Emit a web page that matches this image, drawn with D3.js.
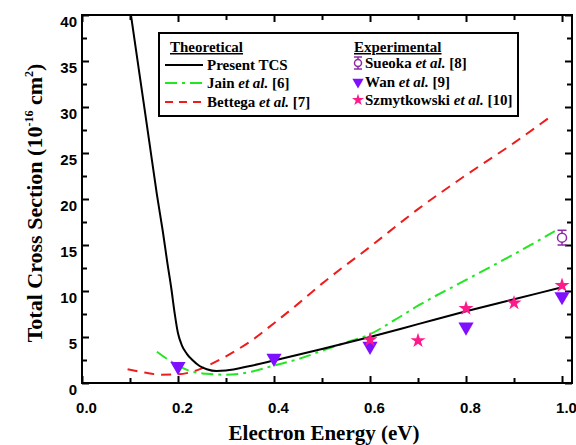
<!DOCTYPE html>
<html><head><meta charset="utf-8">
<script src="https://cdn.jsdelivr.net/npm/d3@7"></script>
<style>
html,body{margin:0;padding:0;background:#fff;}
svg{display:block;}
</style></head>
<body>
<svg id="chart" width="576" height="445"></svg>
<script>
// ---- data ----
const presentE = [0.102,0.12,0.14,0.156,0.168,0.178,0.186,0.193,0.2,0.208,0.218,0.23,0.245,0.26,0.28,0.3,0.35,0.4,0.5,0.6,0.7,0.8,0.9,1.0];
const presentV = [40,33.5,26.3,20.5,16.6,13,10.3,7.6,5.4,4.1,3.2,2.5,1.85,1.5,1.3,1.35,1.85,2.45,3.7,5.0,6.4,7.8,9.1,10.4];
const jainE = [0.156,0.19,0.225,0.26,0.3,0.35,0.4,0.45,0.5,0.55,0.6,0.65,0.7,0.8,0.9,0.985];
const jainV = [3.4,2.2,1.3,1.0,0.9,1.2,1.9,2.6,3.5,4.4,5.3,6.8,8.4,11.2,14.0,16.5];
const bettegaE = [0.095,0.13,0.165,0.2,0.235,0.267,0.3,0.323,0.35,0.4,0.45,0.5,0.6,0.7,0.8,0.9,0.98];
const bettegaV = [1.5,1.15,0.9,0.95,1.3,2.0,2.9,3.6,4.5,6.5,8.6,10.8,14.8,18.9,22.6,26.1,29.1];
const sueokaE = [1.0];
const sueokaV = [15.8];
const sueokaErr = [0.8];
const wanE = [0.2,0.4,0.6,0.8,1.0];
const wanV = [1.8,2.7,4.0,6.1,9.4];
const szmE = [0.6,0.7,0.8,0.9,1.0];
const szmV = [4.7,4.6,8.1,8.7,10.6];
const xTicks = [0,0.2,0.4,0.6,0.8,1.0];
const xMinor = [0.1,0.3,0.5,0.7,0.9];
const yTicks = [0,5,10,15,20,25,30,35,40];
const yMinor = [2.5,7.5,12.5,17.5,22.5,27.5,32.5,37.5];

// ---- layout ----
const L = 82, R = 572, T = 15, B = 383;
const x = d3.scaleLinear().domain([0, 1.0208]).range([L, R]);
const y = d3.scaleLinear().domain([0, 40]).range([B, T]);
const svg = d3.select("#chart");
const SANS = "'Liberation Sans', Arial, sans-serif";
const SERIF = "'Liberation Serif', 'Times New Roman', serif";

svg.append("defs").append("clipPath").attr("id","clip")
  .append("rect").attr("x",L).attr("y",T).attr("width",R-L).attr("height",B-T);

// axes (ticks inward)
function styleAxis(g){ g.select(".domain").remove(); g.selectAll("line").attr("stroke","#000").attr("stroke-width",2); }
svg.append("g").attr("transform",`translate(0,${B})`)
  .call(d3.axisBottom(x).tickValues(xTicks).tickSizeInner(-7).tickSizeOuter(0).tickPadding(19).tickFormat(d3.format(".1f")))
  .call(styleAxis)
  .call(g=>g.selectAll("text").attr("font-family",SANS).attr("font-weight","bold").attr("font-size",15).attr("fill","#000").attr("dx",4));
svg.append("g").attr("transform",`translate(0,${B})`)
  .call(d3.axisBottom(x).tickValues(xMinor).tickSizeInner(-5).tickSizeOuter(0).tickFormat(""))
  .call(styleAxis);
svg.append("g").attr("transform",`translate(0,${T})`)
  .call(d3.axisTop(x).tickValues(xTicks).tickSizeInner(-7).tickSizeOuter(0).tickFormat(""))
  .call(styleAxis);
svg.append("g").attr("transform",`translate(0,${T})`)
  .call(d3.axisTop(x).tickValues(xMinor).tickSizeInner(-5).tickSizeOuter(0).tickFormat(""))
  .call(styleAxis);
svg.append("g").attr("transform",`translate(${L},0)`)
  .call(d3.axisLeft(y).tickValues(yTicks).tickSizeInner(-7).tickSizeOuter(0).tickPadding(5).tickFormat(d3.format("d")))
  .call(styleAxis)
  .call(g=>g.selectAll("text").attr("font-family",SANS).attr("font-weight","bold").attr("font-size",15).attr("fill","#000").attr("transform","translate(0,7)"));
svg.append("g").attr("transform",`translate(${L},0)`)
  .call(d3.axisLeft(y).tickValues(yMinor).tickSizeInner(-5).tickSizeOuter(0).tickFormat(""))
  .call(styleAxis);
svg.append("g").attr("transform",`translate(${R},0)`)
  .call(d3.axisRight(y).tickValues(yTicks).tickSizeInner(-7).tickSizeOuter(0).tickFormat(""))
  .call(styleAxis);
svg.append("g").attr("transform",`translate(${R},0)`)
  .call(d3.axisRight(y).tickValues(yMinor).tickSizeInner(-5).tickSizeOuter(0).tickFormat(""))
  .call(styleAxis);

// curves
const line = d3.line().x(d=>x(d[0])).y(d=>y(d[1])).curve(d3.curveMonotoneX);
const plot = svg.append("g").attr("clip-path","url(#clip)");
plot.append("path").datum(d3.zip(bettegaE,bettegaV)).attr("d",line)
  .attr("fill","none").attr("stroke","#ee1c1c").attr("stroke-width",2).attr("stroke-dasharray","10,7");
plot.append("path").datum(d3.zip(jainE,jainV)).attr("d",line)
  .attr("fill","none").attr("stroke","#22e622").attr("stroke-width",2).attr("stroke-dasharray","12,5,3,5");
plot.append("path").datum(d3.zip(presentE,presentV)).attr("d",line)
  .attr("fill","none").attr("stroke","#000").attr("stroke-width",2);

// markers
const WAN = "#7f10ff", SZM = "#ff1a8c", SUE = "#8e2aa6";
const tri = d3.symbol().type(d3.symbolTriangle).size(100);
const star = d3.symbol().type(d3.symbolStar).size(70);
svg.append("g").selectAll("path").data(d3.zip(wanE,wanV)).join("path")
  .attr("d",tri).attr("fill",WAN)
  .attr("transform",d=>`translate(${x(d[0])},${y(d[1])}) rotate(180)`);
svg.append("g").selectAll("path").data(d3.zip(szmE,szmV)).join("path")
  .attr("d",star).attr("fill",SZM)
  .attr("transform",d=>`translate(${x(d[0])},${y(d[1])})`);
const sg = svg.append("g").selectAll("g").data(d3.zip(sueokaE,sueokaV,sueokaErr)).join("g");
sg.append("line").attr("x1",d=>x(d[0])).attr("x2",d=>x(d[0])).attr("y1",d=>y(d[1]-d[2])).attr("y2",d=>y(d[1]+d[2])).attr("stroke",SUE).attr("stroke-width",1.5);
sg.append("line").attr("x1",d=>x(d[0])-4.5).attr("x2",d=>x(d[0])+4.5).attr("y1",d=>y(d[1]-d[2])).attr("y2",d=>y(d[1]-d[2])).attr("stroke",SUE).attr("stroke-width",1.5);
sg.append("line").attr("x1",d=>x(d[0])-4.5).attr("x2",d=>x(d[0])+4.5).attr("y1",d=>y(d[1]+d[2])).attr("y2",d=>y(d[1]+d[2])).attr("stroke",SUE).attr("stroke-width",1.5);
sg.append("circle").attr("cx",d=>x(d[0])).attr("cy",d=>y(d[1])).attr("r",4.5).attr("fill","#fff").attr("stroke",SUE).attr("stroke-width",1.5);

// frame
svg.append("rect").attr("x",L).attr("y",T).attr("width",R-L).attr("height",B-T)
  .attr("fill","none").attr("stroke","#000").attr("stroke-width",2);

// axis titles
svg.append("text").attr("x",324).attr("y",440).attr("text-anchor","middle")
  .attr("font-family",SERIF).attr("font-weight","bold").attr("font-size",21).text("Electron Energy (eV)");
const yt = svg.append("text").attr("transform","translate(42,203) rotate(-90)").attr("text-anchor","middle")
  .attr("font-family",SERIF).attr("font-weight","bold").attr("font-size",22);
yt.append("tspan").text("Total Cross Section (10");
yt.append("tspan").attr("font-size",12).attr("dy",-9).text("-16");
yt.append("tspan").attr("dy",9).text(" cm");
yt.append("tspan").attr("font-size",12).attr("dy",-9).text("2");
yt.append("tspan").attr("dy",9).text(")");

// legend
const lg = svg.append("g");
lg.append("rect").attr("x",159).attr("y",33).attr("width",359).attr("height",83)
  .attr("fill","#fff").attr("stroke","#000").attr("stroke-width",2);
function ltext(tx,ty,parts){
  const t = lg.append("text").attr("x",tx).attr("y",ty).attr("font-family",SERIF).attr("font-weight","bold").attr("font-size",15);
  parts.forEach(p=>{ const s=t.append("tspan").text(p[0]); if(p[1]) s.attr("font-style","italic"); });
  return t;
}
ltext(170,52,[["Theoretical"]]).attr("text-decoration","underline");
ltext(354,52,[["Experimental"]]).attr("text-decoration","underline");
const theo = [
  {lab:[["Present TCS"]], stroke:"#000", dash:null, yy:65},
  {lab:[["Jain "],["et al.",1],[" [6]"]], stroke:"#22e622", dash:"12,5,3,5", yy:83},
  {lab:[["Bettega "],["et al.",1],[" [7]"]], stroke:"#ee1c1c", dash:"8,6", yy:102}
];
theo.forEach(d=>{
  lg.append("line").attr("x1",165).attr("x2",203).attr("y1",d.yy).attr("y2",d.yy)
    .attr("stroke",d.stroke).attr("stroke-width",2).attr("stroke-dasharray",d.dash);
  ltext(207,d.yy+5,d.lab);
});
// experimental legend
const ex = 358;
lg.append("line").attr("x1",ex).attr("x2",ex).attr("y1",57).attr("y2",69).attr("stroke",SUE).attr("stroke-width",1.5);
lg.append("line").attr("x1",ex-4).attr("x2",ex+4).attr("y1",57).attr("y2",57).attr("stroke",SUE).attr("stroke-width",1.5);
lg.append("line").attr("x1",ex-4).attr("x2",ex+4).attr("y1",69).attr("y2",69).attr("stroke",SUE).attr("stroke-width",1.5);
lg.append("circle").attr("cx",ex).attr("cy",63).attr("r",3.5).attr("fill","#fff").attr("stroke",SUE).attr("stroke-width",1.5);
ltext(365,68,[["Sueoka "],["et al.",1],[" [8]"]]);
lg.append("path").attr("d",d3.symbol().type(d3.symbolTriangle).size(55)).attr("fill",WAN).attr("transform",`translate(${ex},82) rotate(180)`);
ltext(365,87,[["Wan "],["et al.",1],[" [9]"]]);
lg.append("path").attr("d",d3.symbol().type(d3.symbolStar).size(45)).attr("fill",SZM).attr("transform",`translate(${ex},100)`);
ltext(365,105,[["Szmytkowski "],["et al.",1],[" [10]"]]);
</script>
</body></html>
